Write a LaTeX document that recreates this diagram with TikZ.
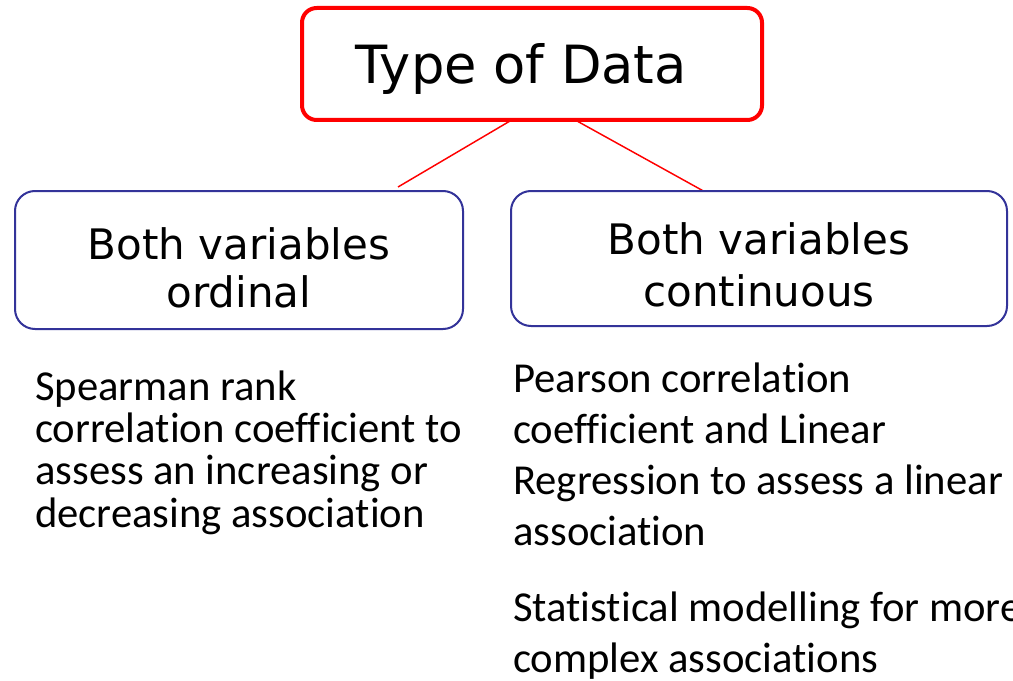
\documentclass[tikz,border=0pt]{standalone}
\usepackage{fontspec}
\setmainfont{Carlito}[Ligatures=NoCommon]
\newfontfamily\verd{DejaVu Sans}
\definecolor{boxblue}{RGB}{51,51,153}
\definecolor{linered}{RGB}{255,0,0}
\tikzset{
  titlebox/.style={draw=linered, line width=3pt, rounded corners=11pt, fill=white,
    minimum width=345pt, minimum height=84pt, inner sep=0pt,
    text height=30pt, text depth=0pt,
    font=\verd\fontsize{39.5}{47}\selectfont},
  catbox/.style={draw=boxblue, line width=1.5pt, rounded corners=15pt, fill=white,
    align=center, inner sep=0pt},
  link/.style={draw=linered, line width=1.1pt},
  bodyleft/.style={align=left, inner sep=0pt, anchor=base west,
    font=\fontsize{32}{31.75}\selectfont},
  bodyright/.style={align=left, inner sep=0pt, anchor=base west,
    font=\fontsize{32}{38.25}\selectfont}
}
\begin{document}
\begin{tikzpicture}[x=0.75pt,y=-0.75pt]
\useasboundingbox (0,0) rectangle (1013,681);
% connectors (drawn first)
\coordinate (tl) at (510,121);
\coordinate (tr) at (577,121);
\coordinate (lend) at (398,187);
\coordinate (rend) at (707,193);
\draw[link] (tl) -- (lend);
\draw[link] (tr) -- (rend);
% boxes
\node[titlebox] (top) at (532,64) {Type of Data\hspace*{16pt}};
\node[catbox, minimum width=336pt, minimum height=103.5pt,
  font=\verd\fontsize{31.5}{36}\selectfont] (ord) at (239,260)
  {\rule{0pt}{36pt}Both variables\\ordinal};
\node[catbox, minimum width=372pt, minimum height=101.25pt,
  font=\verd\fontsize{31.5}{39}\selectfont] (cont) at (759,258.5)
  {\rule{0pt}{33.75pt}Both variables\\continuous};
% body texts
\node[bodyleft] (spear) at (35,527)
  {Spearman rank\\correlation coefficient to\\assess an increasing or\\decreasing association};
\node[bodyright] (pear) at (513,545)
  {Pearson correlation\\coefficient and Linear\\Regression to assess a linear\\association};
\node[bodyright] (stat) at (513,672)
  {Statistical modelling for more\\complex associations};
\end{tikzpicture}
\end{document}
